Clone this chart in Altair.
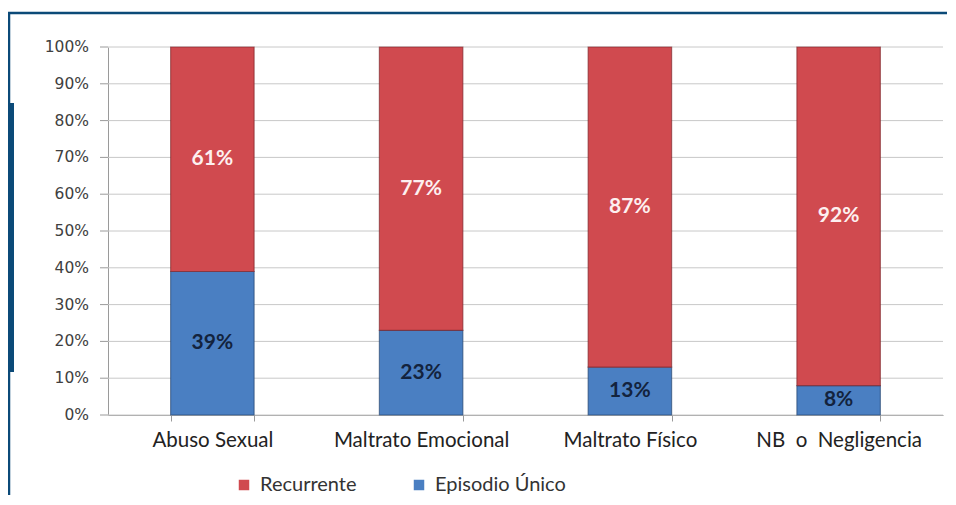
import altair as alt
import pandas as pd

categories = ["Abuso Sexual", "Maltrato Emocional", "Maltrato Físico", "NB\u00a0 o\u00a0 Negligencia"]
recurrente = [61, 77, 87, 92]
episodio_unico = [39, 23, 13, 8]
series_names = ["Recurrente", "Episodio Único"]
series_colors = ["#d04a4f", "#4a7fc2"]
y_ticks = [0, 10, 20, 30, 40, 50, 60, 70, 80, 90, 100]
y_tick_labels = [f"{v}%" for v in y_ticks]

rows = []
for c, r, u in zip(categories, recurrente, episodio_unico):
    rows.append({"cat": c, "serie": "Episodio Único", "val": u, "ord": 0,
                 "mid": u / 2, "label": f"{u}%"})
    rows.append({"cat": c, "serie": "Recurrente", "val": r, "ord": 1,
                 "mid": u + r / 2, "label": f"{r}%"})
df = pd.DataFrame(rows)
ticks_df = pd.DataFrame({"t": y_ticks, "lab": y_tick_labels})

W, H = 835, 368

x_enc = alt.X("cat:N", sort=categories, title=None,
              scale=alt.Scale(paddingInner=0.6, paddingOuter=0.3),
              axis=alt.Axis(labelAngle=0, labelFont="Lato", labelFontSize=20.5,
                            labelColor="#222222", labelPadding=9, tickBand="extent",
                            tickSize=6, tickColor="#9a9a9a", domainColor="#9a9a9a",
                            grid=False, labelOverlap=False))

y_scale = alt.Scale(domain=[0, 100], nice=False)
y_axis = alt.Axis(labels=False, ticks=False, grid=False, domainColor="#9a9a9a")

grid = alt.Chart(ticks_df).mark_rule(color="#c8c8c8", strokeWidth=1).encode(
    x=alt.value(0), x2=alt.value(W),
    y=alt.Y("t:Q", scale=y_scale, axis=y_axis, title=None))
tick_marks = alt.Chart(ticks_df).mark_rule(color="#9a9a9a", strokeWidth=1).encode(
    x=alt.value(-8), x2=alt.value(0),
    y=alt.Y("t:Q", scale=y_scale, axis=y_axis, title=None))
tick_labels = alt.Chart(ticks_df).mark_text(
    font="DejaVu Sans", fontSize=15.5, color="#404040", align="right", baseline="middle"
).encode(x=alt.value(-19), y=alt.Y("t:Q", scale=y_scale, axis=y_axis, title=None),
         text="lab:N")

bars = alt.Chart(df).mark_bar(strokeWidth=1.2, strokeOpacity=0.6).encode(
    x=x_enc,
    y=alt.Y("val:Q", stack="zero", title=None, scale=y_scale, axis=y_axis),
    color=alt.Color("serie:N", scale=alt.Scale(domain=series_names, range=series_colors),
                    title=None,
                    legend=alt.Legend(orient="none", direction="horizontal",
                                      legendX=126, legendY=428, symbolType="square",
                                      symbolSize=110, symbolStrokeWidth=0,
                                      labelFont="Lato", labelFontSize=20,
                                      labelColor="#333333", columnPadding=52,
                                      labelOffset=6, padding=0)),
    stroke=alt.Stroke("serie:N", scale=alt.Scale(domain=series_names,
                                                  range=["#7a1f24", "#1f3f6a"]),
                      legend=None),
    order=alt.Order("ord:Q"),
)

text_red = alt.Chart(df).transform_filter(alt.datum.serie == "Recurrente").mark_text(
    font="Lato", fontSize=21, fontWeight="bold", color="#fdf0f0", baseline="middle"
).encode(x=alt.X("cat:N", sort=categories, title=None),
         y=alt.Y("mid:Q", title=None, scale=y_scale, axis=y_axis), text="label:N")

text_blue = alt.Chart(df).transform_filter(alt.datum.serie == "Episodio Único").mark_text(
    font="Lato", fontSize=21, fontWeight="bold", color="#13233d", baseline="middle"
).encode(x=alt.X("cat:N", sort=categories, title=None),
         y=alt.Y("mid:Q", title=None, scale=y_scale, axis=y_axis), text="label:N")

one = alt.Data(values=[{}])
frame_top = alt.Chart(one).mark_rule(color="#0b4a78", strokeWidth=2.5).encode(
    x=alt.value(-100), x2=alt.value(W + 10), y=alt.value(-34))
frame_left = alt.Chart(one).mark_rule(color="#0b4a78", strokeWidth=2.5).encode(
    x=alt.value(-99), y=alt.value(-35), y2=alt.value(H + 100))
frame_block = alt.Chart(one).mark_rect(color="#0b4a78").encode(
    x=alt.value(-100), x2=alt.value(-94), y=alt.value(56), y2=alt.value(325))

chart = alt.layer(grid, tick_marks, tick_labels, bars, text_red, text_blue,
                  frame_top, frame_left, frame_block).properties(
    width=W, height=H,
    autosize=alt.AutoSizeParams(type="none"),
    padding={"left": 100, "top": 39, "right": 4, "bottom": 80},
    background="white",
).configure_view(stroke=None)

chart.save("out.html", embed_options={"renderer": "svg", "actions": False})
